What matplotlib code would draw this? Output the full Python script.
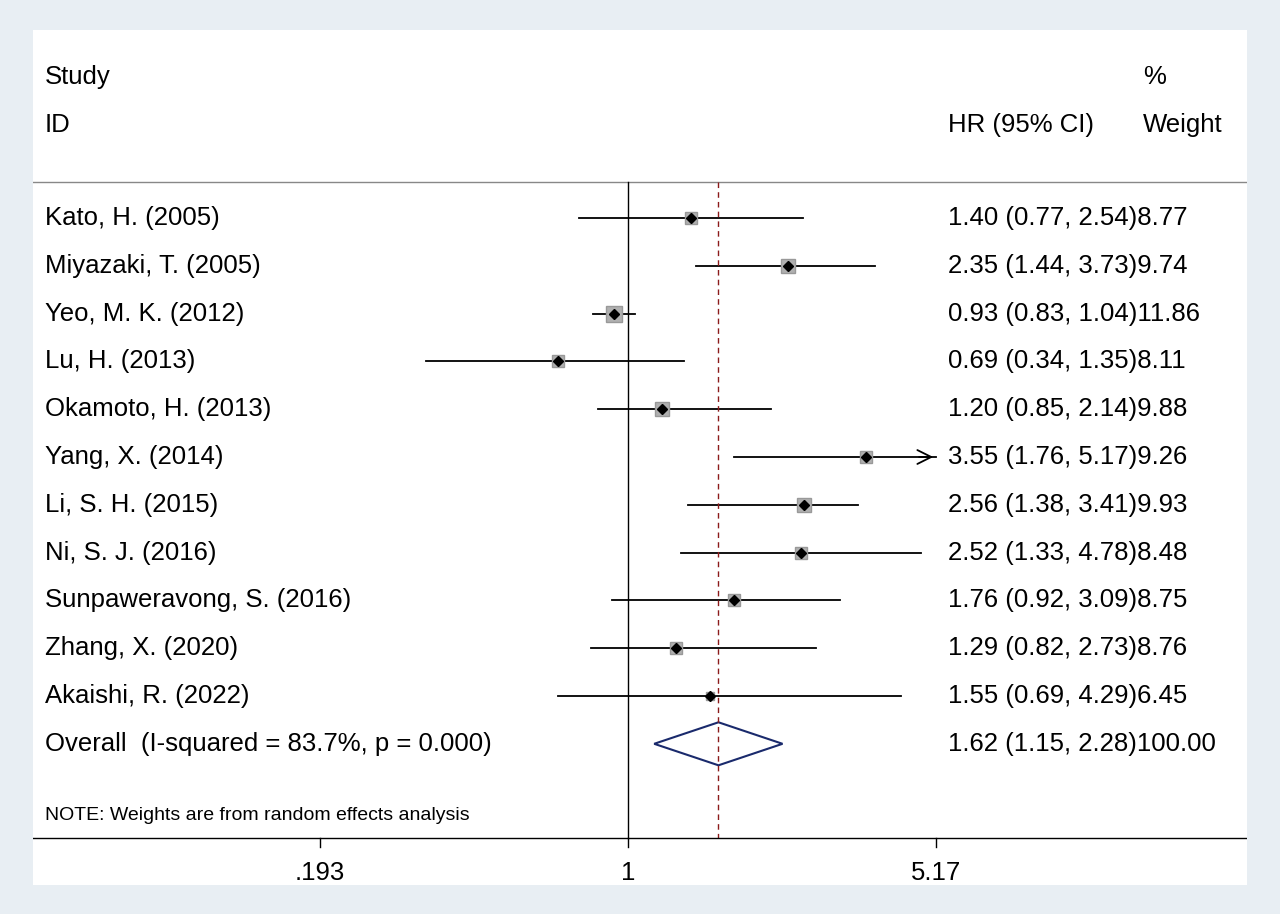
import matplotlib
matplotlib.use("Agg")
import matplotlib.pyplot as plt
import numpy as np

studies = ["Kato, H. (2005)", "Miyazaki, T. (2005)", "Yeo, M. K. (2012)", "Lu, H. (2013)",
           "Okamoto, H. (2013)", "Yang, X. (2014)", "Li, S. H. (2015)", "Ni, S. J. (2016)",
           "Sunpaweravong, S. (2016)", "Zhang, X. (2020)", "Akaishi, R. (2022)"]
hr = [1.40, 2.35, 0.93, 0.69, 1.20, 3.55, 2.56, 2.52, 1.76, 1.29, 1.55]
lo = [0.77, 1.44, 0.83, 0.34, 0.85, 1.76, 1.38, 1.33, 0.92, 0.82, 0.69]
hi = [2.54, 3.73, 1.04, 1.35, 2.14, 5.17, 3.41, 4.78, 3.09, 2.73, 4.29]
weights = [8.77, 9.74, 11.86, 8.11, 9.88, 9.26, 9.93, 8.48, 8.75, 8.76, 6.45]
overall = (1.62, 1.15, 2.28)
ticks = [0.193, 1, 5.17]
tick_labels = [".193", "1", "5.17"]
xmax_clip = 5.17

plt.rcParams['font.family'] = ['Liberation Sans', 'DejaVu Sans']
fig = plt.figure(figsize=(12.8, 9.14), dpi=100, facecolor='#e8eef3')
W, H = 1280, 914
ax = fig.add_axes([33 / W, 1 - 885 / H, (1247 - 33) / W, (885 - 30) / H])
ax.set_facecolor('white')
ax.set_xscale('log')
ax.set_xlim(np.exp((33 - 628) / 187.5), np.exp((1247 - 628) / 187.5))
sp = 47.8
ax.set_ylim((885 - 218) / sp, (30 - 218) / sp)
for s in ax.spines.values():
    s.set_visible(False)
ax.set_xticks([]); ax.set_yticks([])
ax.minorticks_off()
tA = ax.get_yaxis_transform()
fs = 18.5

def xa(px):
    return (px - 33) / (1247 - 33)

ax.text(xa(45), -2.96, "Study", transform=tA, fontsize=fs, va='center')
ax.text(xa(45), -1.95, "ID", transform=tA, fontsize=fs, va='center')
ax.text(xa(948), -1.95, "HR (95% CI)", transform=tA, fontsize=fs, va='center')
ax.text(xa(1143), -2.96, "%", transform=tA, fontsize=fs, va='center')
ax.text(xa(1143), -1.95, "Weight", transform=tA, fontsize=fs, va='center')
ax.axhline(-0.75, color='#888888', lw=1)

for i, (n, h, l, u, w) in enumerate(zip(studies, hr, lo, hi, weights)):
    ax.text(xa(45), i, n, transform=tA, fontsize=fs, va='center')
    if u >= xmax_clip:
        ax.plot([l, xmax_clip], [i, i], color='black', lw=1.3)
        ax.annotate("", xy=(xmax_clip, i), xytext=(xmax_clip * 0.9, i),
                    arrowprops=dict(arrowstyle='->', lw=1.3, color='black', mutation_scale=25))
    else:
        ax.plot([l, u], [i, i], color='black', lw=1.3)
    ax.plot(h, i, 's', color='#b0b0b0', markersize=w * 1.0, markeredgecolor='#999999')
    ax.plot(h, i, 'D', color='black', markersize=5)
    ax.text(xa(948), i, f"{h:.2f} ({l:.2f}, {u:.2f}){w:.2f}", transform=tA, fontsize=fs, va='center')

k = len(studies)
o, ol, ou = overall
ax.fill([ol, o, ou, o, ol], [k, k - 0.45, k, k + 0.45, k], facecolor='white',
        edgecolor='#1a2a6c', lw=1.5)
ax.text(xa(45), k, "Overall  (I-squared = 83.7%, p = 0.000)", transform=tA, fontsize=fs, va='center')
ax.text(xa(948), k, f"{o:.2f} ({ol:.2f}, {ou:.2f})100.00", transform=tA, fontsize=fs, va='center')

ybot = (838 - 218) / sp
ax.plot([1, 1], [-0.75, ybot], color='black', lw=1)
ax.plot([o, o], [-0.75, ybot], color='#8b1a1a', lw=1, ls=(0, (4, 3)))
ax.axhline(ybot, color='black', lw=1)
ax.text(xa(45), (815 - 218) / sp, "NOTE: Weights are from random effects analysis",
        transform=tA, fontsize=14, va='center')
for t, lab in zip(ticks, tick_labels):
    ax.plot([t, t], [ybot, ybot + 0.18], color='black', lw=1)
    ax.text(t, (873 - 218) / sp, lab, fontsize=fs, ha='center', va='center')

fig.savefig("out.png", dpi=100, facecolor=fig.get_facecolor())
